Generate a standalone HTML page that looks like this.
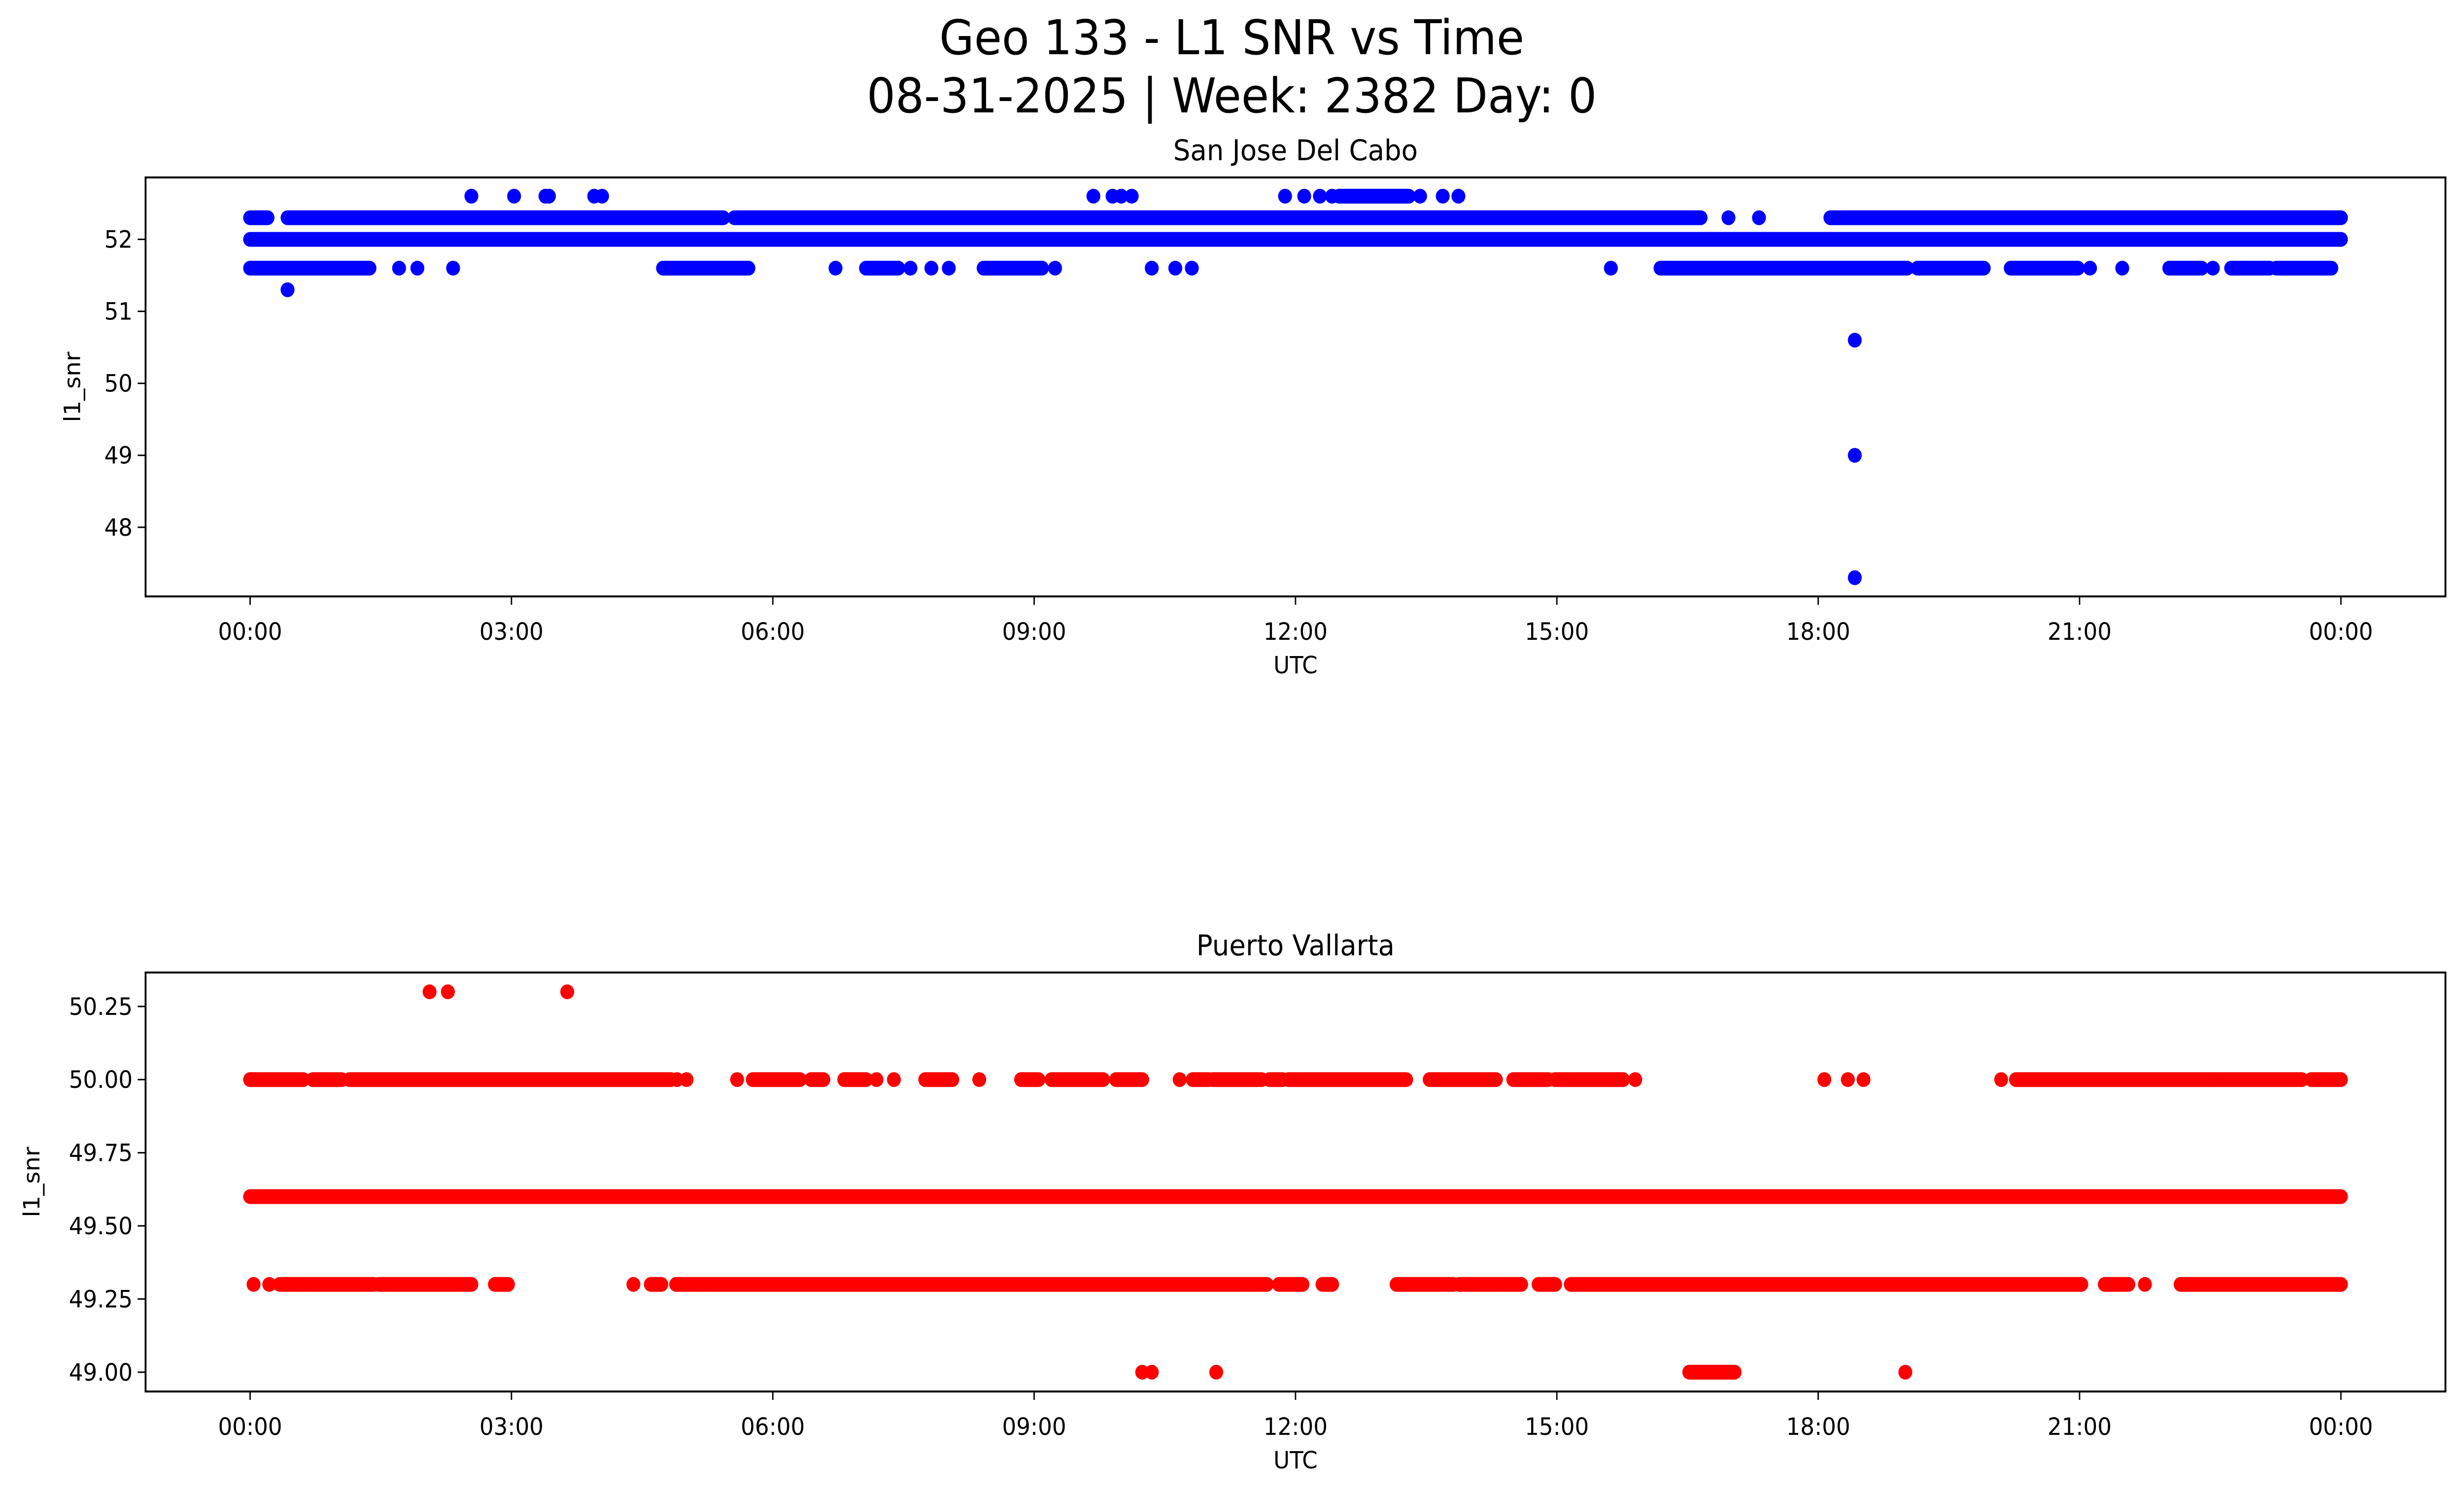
<!DOCTYPE html>
<html><head><meta charset="utf-8"><style>
html,body{margin:0;padding:0;background:#fff;overflow:hidden}
svg{display:block;width:100vw;height:100vh;font-family:"DejaVu Sans","Liberation Sans",sans-serif}
</style></head><body>
<svg id="fig" viewBox="0 0 5315 3033" preserveAspectRatio="none" xmlns="http://www.w3.org/2000/svg">
<rect width="5315" height="3033" fill="#fff"/>
<text x="2657" y="110" font-size="97" text-anchor="middle">Geo 133 - L1 SNR vs Time</text>
<text x="2657" y="228" font-size="97" text-anchor="middle">08-31-2025 | Week: 2382 Day: 0</text>
<g id="top"></g>
<g id="bot"></g>
</svg>
<script>
// x tick labels (hours)
const xTickHours=[0,3,6,9,12,15,18,21,24];
const xTickLabels=["00:00","03:00","06:00","09:00","12:00","15:00","18:00","21:00","00:00"];
// Top panel: San Jose Del Cabo
const topLevels=[52.6,52.3,52.0,51.6];
const topRuns526=[[12.5,13.3]];
const topPts526=[2.54,3.03,3.39,3.43,3.95,4.04,9.68,9.9,10.0,10.12,11.88,12.1,12.28,12.42,13.43,13.69,13.87];
const topRuns523=[[0,0.2],[0.43,5.43],[5.56,16.65],[18.14,24]];
const topPts523=[16.97,17.32];
const topRuns520=[[0,24]];
const topPts520=[];
const topRuns516=[[0,1.37],[4.74,5.72],[7.07,7.44],[8.42,9.09],[16.19,19.02],[19.14,19.9],[20.21,20.98],[22.03,22.4],[22.74,23.18],[23.26,23.89]];
const topPts516=[1.71,1.92,2.33,6.72,7.58,7.82,8.02,9.24,10.35,10.62,10.81,15.62,21.12,21.49,22.53];
const topOutT=[0.43,18.42,18.42,18.42];
const topOutV=[51.3,50.6,49.0,47.3];
const topYTicks=[48,49,50,51,52];
const topYLabels=["48","49","50","51","52"];
// Bottom panel: Puerto Vallarta
const botPts503=[2.06,2.27,3.64];
const botRuns500=[[0,0.61],[0.72,1.05],[1.14,4.83],[5.77,6.31],[6.44,6.58],[6.82,7.07],[7.75,8.06],[8.85,9.05],[9.2,9.79],[9.94,10.24],[10.82,11.0],[11.05,11.61],[11.7,11.85],[11.92,13.27],[13.54,14.3],[14.5,14.9],[14.98,15.76],[20.27,22.52],[22.52,23.55],[23.66,24]];
const botPts500=[4.9,5.01,5.59,7.19,7.39,8.37,10.67,15.9,18.07,18.34,18.52,20.1];
const botRuns496=[[0,24]];
const botRuns493=[[0.34,1.42],[1.48,2.54],[2.81,2.96],[4.6,4.72],[4.89,11.67],[11.81,12.08],[12.31,12.42],[13.16,13.81],[13.88,14.59],[14.79,14.98],[15.16,21.02],[21.29,21.56],[22.16,24]];
const botPts493=[0.04,0.22,4.4,21.75];
const botRuns490=[[16.52,17.04]];
const botPts490=[10.24,10.35,11.09,19.0];
const botYTicks=[49.0,49.25,49.5,49.75,50.0,50.25];
const botYLabels=["49.00","49.25","49.50","49.75","50.00","50.25"];

const NS="http://www.w3.org/2000/svg";
function mk(parent,tag,attrs){const e=document.createElementNS(NS,tag);for(const k in attrs)e.setAttribute(k,attrs[k]);parent.appendChild(e);return e;}
const L=314,R=5275;
const xScale=h=>L+(h+1.2)/26.4*(R-L);

function panel(g,top,bot,ymin,ymax,color,yTicks,yLabels,title,ylabelX,series){
  const y=v=>bot-(v-ymin)/(ymax-ymin)*(bot-top);
  const marks=mk(g,'g',{});
  
  
  series.forEach(s=>{
    s.runs.forEach(r=>{
      const ln=mk(marks,'line',{x1:xScale(r[0]),x2:xScale(r[1]),y1:y(s.v),y2:y(s.v),stroke:color,'stroke-width':30,'stroke-linecap':'round'});
      
      
    });
    s.pts.forEach(t=>{
      const c=mk(marks,'circle',{cx:xScale(t),cy:y(s.v),r:15,fill:color});
      
      
    });
  });
  const fr=mk(g,'rect',{x:L,y:top,width:R-L,height:bot-top,fill:'none',stroke:'#000','stroke-width':4});
  
  
  yTicks.forEach((v,i)=>{
    mk(g,'line',{x1:L-17,x2:L,y1:y(v),y2:y(v),stroke:'#000','stroke-width':3});
    const t=mk(g,'text',{x:L-28,y:y(v)+17,'font-size':48,'text-anchor':'end'});
    t.textContent=yLabels[i];
    
    
  });
  xTickHours.forEach((h,i)=>{
    mk(g,'line',{x1:xScale(h),x2:xScale(h),y1:bot,y2:bot+17,stroke:'#000','stroke-width':3});
    const t=mk(g,'text',{x:xScale(h),y:bot+88,'font-size':48,'text-anchor':'middle'});
    t.textContent=xTickLabels[i];
    
    
  });
  const xl=mk(g,'text',{x:(L+R)/2,y:bot+156,'font-size':48,'text-anchor':'middle'});
  xl.textContent='UTC';
  
  
  const yl=mk(g,'text',{x:ylabelX,y:(top+bot)/2,'font-size':48,'text-anchor':'middle',transform:`rotate(-90 ${ylabelX} ${(top+bot)/2})`,dy:17});
  yl.textContent='l1_snr';
  
  
  const tt=mk(g,'text',{x:(L+R)/2,y:top-35,'font-size':58,'text-anchor':'middle'});
  tt.textContent=title;
  
  
}
panel(document.getElementById('top'),360,1210,47.04,52.86,'#0000ff',topYTicks,topYLabels,'San Jose Del Cabo',156,[
  {v:topLevels[0],runs:topRuns526,pts:topPts526},
  {v:topLevels[1],runs:topRuns523,pts:topPts523},
  {v:topLevels[2],runs:topRuns520,pts:topPts520},
  {v:topLevels[3],runs:topRuns516,pts:topPts516},
  ...topOutT.map((t,i)=>({v:topOutV[i],runs:[],pts:[t]}))
]);
panel(document.getElementById('bot'),1973,2823,48.934,50.366,'#ff0000',botYTicks,botYLabels,'Puerto Vallarta',68,[
  {v:50.3,runs:[],pts:botPts503},
  {v:50.0,runs:botRuns500,pts:botPts500},
  {v:49.6,runs:botRuns496,pts:[]},
  {v:49.3,runs:botRuns493,pts:botPts493},
  {v:49.0,runs:botRuns490,pts:botPts490}
]);
</script>
</body></html>
